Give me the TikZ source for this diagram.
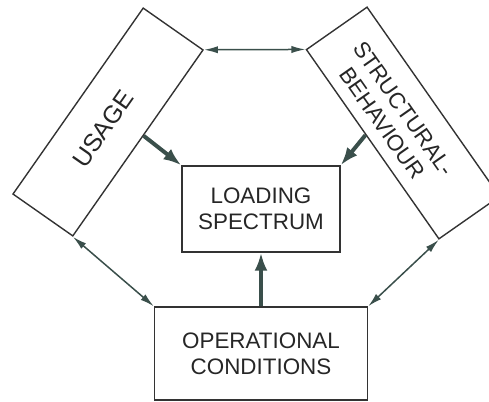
\documentclass[tikz,border=0pt]{standalone}
\usepackage{fontspec}
\setmainfont{Liberation Sans}
\usepackage{tikz}
\usetikzlibrary{arrows.meta, positioning, calc}
\definecolor{frame}{HTML}{333333}
\definecolor{link}{HTML}{3A4F4B}

\tikzset{
  box/.style={draw=frame, line width=0.7pt, rectangle, inner sep=0pt},
  caption/.style={align=center, inner sep=0pt, text=black!85, font=\fontsize{11.2}{13}\selectfont},
  thin link/.style={link, line width=0.75pt, {Latex[length=7pt, width=3.6pt]}-{Latex[length=7pt, width=3.6pt]}},
  thick link/.style={link, line width=2pt, -{Latex[length=9pt, width=6.5pt]}}
}

\begin{document}
\begin{tikzpicture}[x=0.5pt, y=-0.5pt]
  \useasboundingbox (0,0) rectangle (489,402);
  \clip (0,0) rectangle (489,402);

  % slanted boxes, their words sit a bit off centre
  \node[box, rotate=55, minimum width=113.5pt, minimum height=36.5pt] (usage) at (108,122) {};
  \node[caption, rotate=55, font=\fontsize{12.4}{14}\selectfont] (usagetext)
        at ($(usage.center)+(-5,7)$) {USAGE};
  \node[box, rotate=-55, minimum width=115.5pt, minimum height=37pt] (behaviour) at (403,123) {};
  \node[caption, rotate=-55] (behaviourtext) at ($(behaviour.center)+(-10,-7)$)
        {STRUCTURAL-\\BEHAVIOUR};

  % middle and bottom
  \node[box, caption, minimum width=79pt, minimum height=43pt] (spectrum) at (261,209)
        {LOADING\\SPECTRUM};
  \node[box, caption, minimum width=106.5pt, minimum height=46.5pt] (conditions) at (261,353.5)
        {OPERATIONAL\\CONDITIONS};

  % two-way links
  \draw[thin link] (usage.south east) -- (behaviour.south west);
  \draw[thin link] (usage.south west) -- (conditions.north west);
  \draw[thin link] (behaviour.south east) -- (conditions.north east);

  % inputs to the spectrum
  \draw[thick link] ($(usage.south west)!0.54!(usage.south east)$) -- (spectrum.north west);
  \draw[thick link] ($(behaviour.south west)!0.45!(behaviour.south east)$) -- (spectrum.north east);
  \draw[thick link] (conditions.north) -- (spectrum.south);
\end{tikzpicture}
\end{document}
